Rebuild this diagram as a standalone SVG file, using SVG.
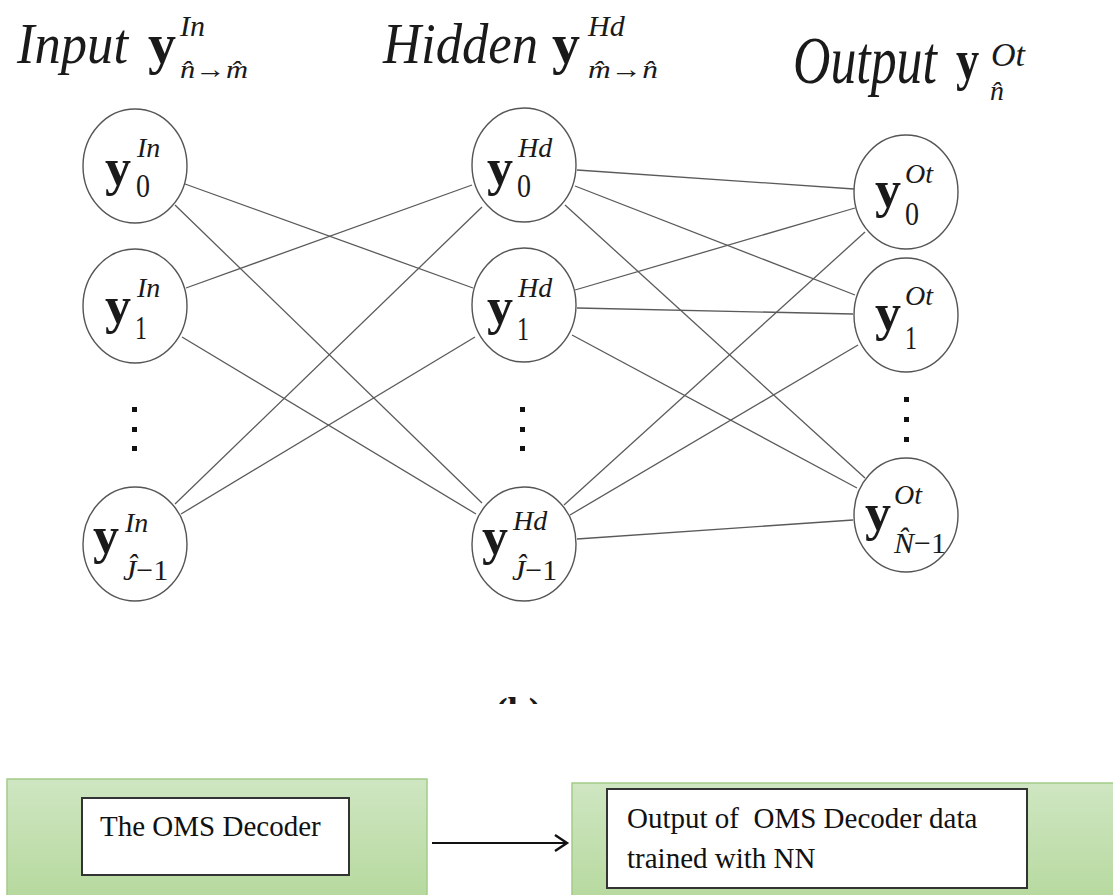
<svg xmlns="http://www.w3.org/2000/svg" width="1113" height="895" viewBox="0 0 1113 895">
  <defs>
    <linearGradient id="greenFill" x1="0" y1="0" x2="0" y2="1">
      <stop offset="0" stop-color="#cfe6c2"/>
      <stop offset="1" stop-color="#b4d89b"/>
    </linearGradient>
    <clipPath id="capCut">
      <rect x="480" y="680" width="80" height="24"/>
    </clipPath>
    <style>
      .serif { font-family: "Liberation Serif", "Times New Roman", serif; fill: #1a1a1a; }
      .it { font-style: italic; }
      .bold { font-weight: bold; }
      .node ellipse { fill: #ffffff; stroke: #555555; stroke-width: 1.4; }
      .by { font-family: "Liberation Serif", serif; font-weight: bold; font-size: 52px; fill: #1a1a1a; }
      .sup { font-family: "Liberation Serif", serif; font-style: italic; font-size: 28px; fill: #1a1a1a; }
      .sub { font-family: "Liberation Serif", serif; font-size: 33px; fill: #1a1a1a; }
      .subi { font-family: "Liberation Serif", serif; font-size: 30px; fill: #1a1a1a; }
      .links line { stroke: #5a5a5a; stroke-width: 1.3; }
      .dot { fill: #111111; }
      .green { fill: url(#greenFill); stroke: #a3cc88; stroke-width: 1.5; }
      .inner { fill: #ffffff; stroke: #333333; stroke-width: 2; }
      .label { font-family: "Liberation Serif", serif; font-size: 29px; fill: #111111; }
    </style>
  </defs>

  <rect width="1113" height="895" fill="#ffffff"/>

  <!-- layer titles -->
  <g id="title-input">
    <text class="serif it" x="17" y="63" font-size="56" textLength="111" lengthAdjust="spacingAndGlyphs">Input</text>
    <text class="serif bold" x="148" y="63" font-size="56">y</text>
    <text class="serif it" x="180" y="36" font-size="30">In</text>
    <text class="serif" x="180" y="78" font-size="26" textLength="68" lengthAdjust="spacingAndGlyphs"><tspan font-style="italic">n&#770;</tspan>→<tspan font-style="italic">m&#770;</tspan></text>
  </g>
  <g id="title-hidden">
    <text class="serif it" x="383" y="63" font-size="56" textLength="155" lengthAdjust="spacingAndGlyphs">Hidden</text>
    <text class="serif bold" x="552" y="63" font-size="56">y</text>
    <text class="serif it" x="588" y="36" font-size="30">Hd</text>
    <text class="serif" x="588" y="78" font-size="26" textLength="70" lengthAdjust="spacingAndGlyphs"><tspan font-style="italic">m&#770;</tspan>→<tspan font-style="italic">n&#770;</tspan></text>
  </g>
  <g id="title-output">
    <text class="serif it" transform="translate(793,83) scale(0.762,1)" x="0" y="0" font-size="68">Output</text>
    <text class="serif bold" transform="translate(956,79) scale(0.8,1)" x="0" y="0" font-size="58">y</text>
    <text class="serif it" x="991" y="66" font-size="34">Ot</text>
    <text class="serif it" x="990" y="100" font-size="28">n&#770;</text>
  </g>

  <!-- weighted connections -->
  <g id="connectors" class="links">
    <!-- input -> hidden -->
    <line x1="185" y1="184" x2="473" y2="288"/>
    <line x1="175" y1="205" x2="482" y2="503"/>
    <line x1="186" y1="288" x2="472" y2="185"/>
    <line x1="182" y1="337" x2="476" y2="514"/>
    <line x1="175" y1="504" x2="482" y2="207"/>
    <line x1="181" y1="514" x2="475" y2="337"/>
    <!-- hidden -> output -->
    <line x1="577" y1="170" x2="854" y2="189"/>
    <line x1="575" y1="186" x2="855" y2="295"/>
    <line x1="565" y1="205" x2="865" y2="478"/>
    <line x1="575" y1="290" x2="855" y2="208"/>
    <line x1="577" y1="308" x2="853" y2="314"/>
    <line x1="572" y1="335" x2="857" y2="488"/>
    <line x1="564" y1="505" x2="865" y2="232"/>
    <line x1="570" y1="515" x2="858" y2="345"/>
    <line x1="577" y1="539" x2="853" y2="520"/>
  </g>

  <!-- input layer -->
  <g id="in0" class="node">
    <ellipse cx="135" cy="166" rx="52" ry="57"/>
    <text class="by" x="105" y="185">y</text>
    <text class="sup" x="137" y="157">In</text>
    <text class="sub" x="136" y="197" textLength="14" lengthAdjust="spacingAndGlyphs">0</text>
  </g>
  <g id="in1" class="node">
    <ellipse cx="135" cy="306" rx="52" ry="57"/>
    <text class="by" x="105" y="323">y</text>
    <text class="sup" x="137" y="297">In</text>
    <text class="sub" x="135" y="339" textLength="12" lengthAdjust="spacingAndGlyphs">1</text>
  </g>
  <g id="inJ" class="node">
    <ellipse cx="135" cy="544" rx="52" ry="57"/>
    <text class="by" x="93" y="553">y</text>
    <text class="sup" x="125" y="532">In</text>
    <text class="subi" x="123" y="580"><tspan font-style="italic">Ĵ</tspan>−1</text>
  </g>

  <!-- hidden layer -->
  <g id="h0" class="node">
    <ellipse cx="524" cy="165" rx="52" ry="57"/>
    <text class="by" x="487" y="185">y</text>
    <text class="sup" x="518" y="157">Hd</text>
    <text class="sub" x="517" y="197" textLength="14" lengthAdjust="spacingAndGlyphs">0</text>
  </g>
  <g id="h1" class="node">
    <ellipse cx="524" cy="305" rx="52" ry="57"/>
    <text class="by" x="487" y="324">y</text>
    <text class="sup" x="518" y="297">Hd</text>
    <text class="sub" x="517" y="340" textLength="12" lengthAdjust="spacingAndGlyphs">1</text>
  </g>
  <g id="hJ" class="node">
    <ellipse cx="524" cy="544" rx="52" ry="57"/>
    <text class="by" x="482" y="554">y</text>
    <text class="sup" x="513" y="530">Hd</text>
    <text class="subi" x="512" y="580"><tspan font-style="italic">Ĵ</tspan>−1</text>
  </g>

  <!-- output layer -->
  <g id="o0" class="node">
    <ellipse cx="906" cy="192" rx="52" ry="57"/>
    <text class="by" x="875" y="207">y</text>
    <text class="sup" x="905" y="183">Ot</text>
    <text class="sub" x="905" y="225" textLength="14" lengthAdjust="spacingAndGlyphs">0</text>
  </g>
  <g id="o1" class="node">
    <ellipse cx="906" cy="315" rx="52" ry="57"/>
    <text class="by" x="875" y="330">y</text>
    <text class="sup" x="905" y="305">Ot</text>
    <text class="sub" x="905" y="349" textLength="12" lengthAdjust="spacingAndGlyphs">1</text>
  </g>
  <g id="oN" class="node">
    <ellipse cx="906" cy="515" rx="52" ry="57"/>
    <text class="by" x="865" y="530">y</text>
    <text class="sup" x="894" y="504">Ot</text>
    <text class="subi" x="894" y="553"><tspan font-style="italic">N&#770;</tspan>−1</text>
  </g>

  <!-- vertical ellipsis marks -->
  <g id="ellipses">
    <rect class="dot" x="132" y="407" width="5" height="5"/>
    <rect class="dot" x="132" y="427" width="5" height="5"/>
    <rect class="dot" x="132" y="446" width="5" height="5"/>
    <rect class="dot" x="520" y="407" width="5" height="5"/>
    <rect class="dot" x="520" y="427" width="5" height="5"/>
    <rect class="dot" x="520" y="446" width="5" height="5"/>
    <rect class="dot" x="904" y="397" width="5" height="5"/>
    <rect class="dot" x="904" y="417" width="5" height="5"/>
    <rect class="dot" x="904" y="437" width="5" height="5"/>
  </g>

  <!-- caption, cut by the panel edge -->
  <g clip-path="url(#capCut)">
    <text class="serif bold" x="495" y="724" font-size="38">(b)</text>
  </g>

  <!-- pipeline blocks -->
  <g id="block-decoder">
    <rect class="green" x="7" y="779" width="420" height="130"/>
    <rect class="inner" x="82" y="798" width="267" height="77"/>
    <text class="label" x="100" y="836">The OMS Decoder</text>
  </g>
  <g id="block-output">
    <rect class="green" x="572" y="783" width="560" height="130"/>
    <rect class="inner" x="607" y="789" width="420" height="99"/>
    <text class="label" x="627" y="828" xml:space="preserve">Output of  OMS Decoder data</text>
    <text class="label" x="627" y="868">trained with NN</text>
  </g>
  <g id="flow-arrow">
    <line x1="432" y1="843" x2="566" y2="843" stroke="#111111" stroke-width="2"/>
    <polyline points="555,835 567,843 555,851" fill="none" stroke="#111111" stroke-width="2.4"/>
  </g>
</svg>
